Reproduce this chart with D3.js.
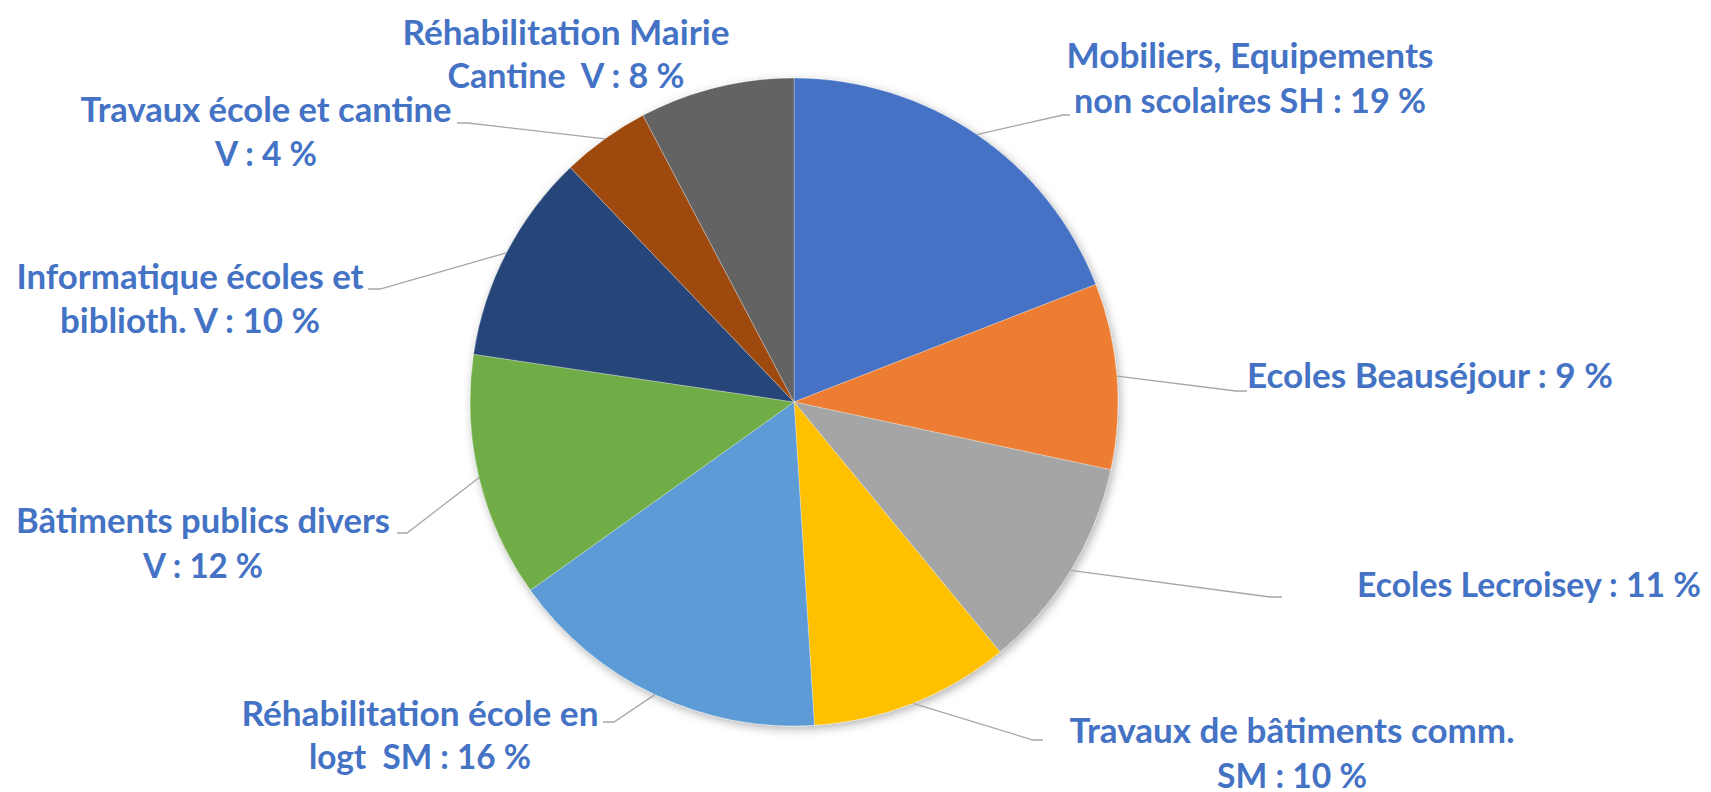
<!DOCTYPE html>
<html>
 <head>
    <meta charset="utf-8">
    <style>
        body { margin: 0; background: #fff; }
        svg { display: block; }
        .lbl { font-family: Lato, "Open Sans", sans-serif; font-weight: bold; font-size: 35px; fill: #4472C4; white-space: pre; }
    </style>
    <script src="https://d3js.org/d3.v7.min.js"></script>
 </head>
 <body>
    <div id="chart"></div>
    <script>
        // slices, clockwise from 12 o'clock
        const categories = ["Mobiliers, Equipements non scolaires SH", "Ecoles Beauséjour", "Ecoles Lecroisey",
            "Travaux de bâtiments comm. SM", "Réhabilitation école en logt  SM", "Bâtiments publics divers V",
            "Informatique écoles et biblioth. V", "Travaux école et cantine V", "Réhabilitation Mairie Cantine  V"];
        const values = [19.05, 9.25, 10.65, 9.95, 16.1, 12.2, 10.5, 4.4, 7.7];
        const pctLabels = ["19 %", "9 %", "11 %", "10 %", "16 %", "12 %", "10 %", "4 %", "8 %"];
        const colors = ["#4472C4", "#ED7D31", "#A5A5A5", "#FFC000", "#5B9BD5", "#70AD47", "#264478", "#9E480E", "#636363"];

        // label text as it wraps in the picture
        const labelLines = [
            ["Mobiliers, Equipements", "non scolaires SH : 19 %"],
            ["Ecoles Beauséjour : 9 %"],
            ["Ecoles Lecroisey : 11 %"],
            ["Travaux de bâtiments comm.", "SM : 10 %"],
            ["Réhabilitation école en", "logt  SM : 16 %"],
            ["Bâtiments publics divers", "V : 12 %"],
            ["Informatique écoles et", "biblioth. V : 10 %"],
            ["Travaux école et cantine", "V : 4 %"],
            ["Réhabilitation Mairie", "Cantine  V : 8 %"]
        ];

        // label placement: centre x, first baseline, line gap, widths, hook [far x, near x, y]
        const labelPos = [
            {x: 1250, y: 68,  gap: 45, w: [367, 352], hook: [1063, 1070, 115]},
            {x: 1430, y: 388, gap: 44, w: [366],      hook: [1236, 1247, 391]},
            {x: 1529, y: 597, gap: 44, w: [344],      hook: [1270, 1282, 597]},
            {x: 1292, y: 743, gap: 45, w: [445, 150], hook: [1033, 1043, 740]},
            {x: 420,  y: 726, gap: 43, w: [357, 222], hook: [614, 603, 722]},
            {x: 203,  y: 533, gap: 45, w: [374, 120], hook: [407, 397, 533]},
            {x: 190,  y: 289, gap: 44, w: [347, 260], hook: [380, 368, 289]},
            {x: 266,  y: 122, gap: 44, w: [371, 102], hook: [468, 457, 123]},
            {x: 566,  y: 45,  gap: 43, w: [327, 237], hook: null}
        ];

        const width = 1711, height = 792;
        const cx = 794, cy = 402, radius = 324;

        const svg = d3.select("#chart").append("svg")
            .attr("width", width)
            .attr("height", height);

        const defs = svg.append("defs");
        const f = defs.append("filter").attr("id", "shadow")
            .attr("x", "-10%").attr("y", "-10%").attr("width", "120%").attr("height", "120%");
        f.append("feDropShadow")
            .attr("dx", 2).attr("dy", 3)
            .attr("stdDeviation", 5)
            .attr("flood-color", "#000")
            .attr("flood-opacity", 0.3);

        const pie = d3.pie().sort(null).value(d => d);
        const arcs = pie(values);
        const arc = d3.arc().innerRadius(0).outerRadius(radius);

        const g = svg.append("g").attr("transform", "translate(" + cx + "," + cy + ")");

        // leader lines first, under the pie
        arcs.forEach((a, i) => {
            const p = labelPos[i];
            if (!p.hook) return;
            const mid = (a.startAngle + a.endAngle) / 2;
            const sx = cx + radius * Math.sin(mid), sy = cy - radius * Math.cos(mid);
            svg.append("polyline")
                .attr("points", [[sx, sy], [p.hook[0], p.hook[2]], [p.hook[1], p.hook[2]]].join(" "))
                .attr("fill", "none")
                .attr("stroke", "#A6A6A6")
                .attr("stroke-width", 1.3);
        });

        const slices = g.append("g").attr("filter", "url(#shadow)");
        slices.selectAll("path")
            .data(arcs)
            .join("path")
            .attr("d", arc)
            .attr("fill", (d, i) => colors[i])
            .attr("stroke", "#fff")
            .attr("stroke-width", 0.6)
            .attr("stroke-opacity", 0.5);

        // labels
        labelLines.forEach((lines, i) => {
            const p = labelPos[i];
            lines.forEach((t, j) => {
                svg.append("text")
                    .attr("class", "lbl")
                    .attr("xml:space", "preserve")
                    .attr("x", p.x)
                    .attr("y", p.y + j * p.gap)
                    .attr("text-anchor", "middle")
                    .attr("textLength", p.w[j])
                    .attr("lengthAdjust", "spacingAndGlyphs")
                    .text(t);
            });
        });
    </script>
 </body>
</html>
